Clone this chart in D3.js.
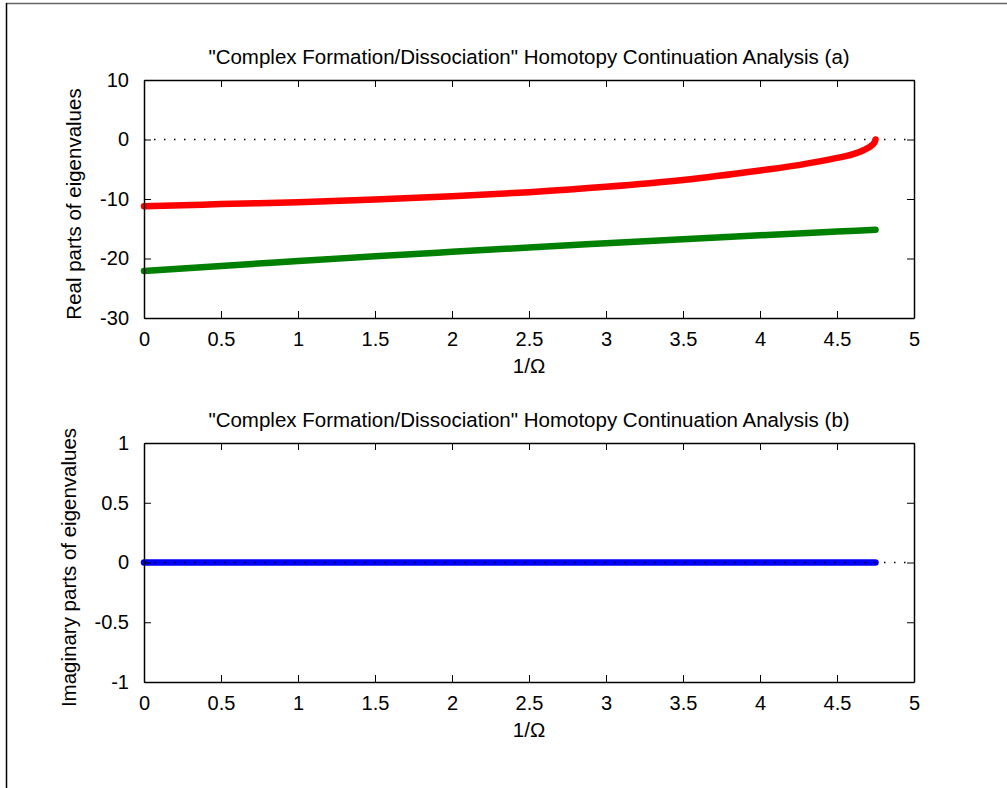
<!DOCTYPE html>
<html>
<head>
<meta charset="utf-8">
<script src="https://cdn.jsdelivr.net/npm/d3@7"></script>
<style>
html,body{margin:0;padding:0;background:#fff;}
text{font-family:"Liberation Sans",Arial,sans-serif;fill:#000;}
</style>
</head>
<body>
<svg id="chart" width="1007" height="788"></svg>
<script>
// ---- data ----
const titleA = '"Complex Formation/Dissociation" Homotopy Continuation Analysis (a)';
const titleB = '"Complex Formation/Dissociation" Homotopy Continuation Analysis (b)';
const xLabel = "1/\u03A9";
const yLabelA = "Real parts of eigenvalues";
const yLabelB = "Imaginary parts of eigenvalues";

const xTicks = [0, 0.5, 1, 1.5, 2, 2.5, 3, 3.5, 4, 4.5, 5];
const yTicksA = [-30, -20, -10, 0, 10];
const yTicksB = [-1, -0.5, 0, 0.5, 1];

const redX = [0, 0.25, 0.5, 1, 1.5, 2, 2.5, 3, 3.5, 4, 4.25, 4.5, 4.6, 4.68, 4.72, 4.74, 4.748, 4.75];
const redY = [-11.2, -11.05, -10.85, -10.55, -10.1, -9.55, -8.85, -7.95, -6.8, -5.2, -4.3, -3.1, -2.5, -1.7, -1.1, -0.6, -0.2, 0];

const greenX = [0, 0.5, 1, 1.5, 2, 2.5, 3, 3.5, 4, 4.5, 4.75];
const greenY = [-22.1, -21.25, -20.44, -19.64, -18.88, -18.14, -17.44, -16.76, -16.1, -15.48, -15.17];

const blueX = [0, 1, 2, 3, 4, 4.75];
const blueY = [0, 0, 0, 0, 0, 0];

// ---- drawing ----
const svg = d3.select("#chart");
const FONT = '"Liberation Sans",Arial,sans-serif';
const fmt = d => d3.format("~g")(d).replace("\u2212", "-");

// figure frame edges
svg.append("line").attr("x1", 6).attr("x2", 1007).attr("y1", 3.5).attr("y2", 3.5)
  .attr("stroke", "#666").attr("stroke-width", 1.5);
svg.append("line").attr("x1", 6.5).attr("x2", 6.5).attr("y1", 3).attr("y2", 788)
  .attr("stroke", "#000").attr("stroke-width", 1.5);

function panel(cfg) {
  const x = d3.scaleLinear().domain([0, 5]).range([144, 914]);
  const y = d3.scaleLinear().domain(cfg.yDomain).range([cfg.bottom, cfg.top]);
  const g = svg.append("g");
  const tickLen = 7;

  const zeroLine = () => g.append("line")
    .attr("x1", x(0)).attr("x2", x(5)).attr("y1", y(0)).attr("y2", y(0))
    .attr("stroke", "#000").attr("stroke-width", 1.3)
    .attr("stroke-dasharray", "1.5,8.5");

  if (!cfg.dotOver) zeroLine();

  // series
  const line = d3.line().x(d => x(d[0])).y(d => y(d[1])).curve(d3.curveMonotoneX);
  cfg.series.forEach(s => {
    const pts = s.xs.map((v, i) => [v, s.ys[i]]);
    g.append("path").attr("d", line(pts))
      .attr("fill", "none").attr("stroke", s.color)
      .attr("stroke-width", 6.5).attr("stroke-linecap", "round").attr("stroke-linejoin", "round");
  });

  if (cfg.dotOver) zeroLine();

  // axes with inward ticks
  const axB = d3.axisBottom(x).tickValues(xTicks).tickSizeInner(-tickLen).tickSizeOuter(0)
    .tickPadding(14).tickFormat(fmt);
  const axT = d3.axisTop(x).tickValues(xTicks).tickSizeInner(-tickLen).tickSizeOuter(0).tickFormat("");
  const axL = d3.axisLeft(y).tickValues(cfg.yTicks).tickSizeInner(-tickLen).tickSizeOuter(0)
    .tickPadding(15).tickFormat(fmt);
  const axR = d3.axisRight(y).tickValues(cfg.yTicks).tickSizeInner(-tickLen).tickSizeOuter(0).tickFormat("");

  const gb = g.append("g").attr("transform", `translate(0,${cfg.bottom})`).call(axB);
  const gt = g.append("g").attr("transform", `translate(0,${cfg.top})`).call(axT);
  const gl = g.append("g").attr("transform", `translate(144,0)`).call(axL);
  const gr = g.append("g").attr("transform", `translate(914,0)`).call(axR);
  [gb, gt, gl, gr].forEach(a => {
    a.attr("font-size", null).attr("font-family", null);
    a.selectAll(".domain").attr("stroke", "#000").attr("stroke-width", 1.5);
    a.selectAll(".tick line").attr("stroke", "#000").attr("stroke-width", 1);
    a.selectAll("text").style("font-family", FONT).style("font-size", "20px").attr("fill", "#000");
  });

  // title
  g.append("text").attr("x", 529).attr("y", cfg.top - 16).attr("text-anchor", "middle")
    .style("font-size", "20.5px").text(cfg.title);
  // x label
  g.append("text").attr("x", 529).attr("y", cfg.bottom + 55).attr("text-anchor", "middle")
    .style("font-size", "20.5px").text(xLabel);
  // y label
  g.append("text").attr("transform", `translate(${cfg.ylx},${(cfg.top + cfg.bottom) / 2 + 5}) rotate(-90)`)
    .attr("text-anchor", "middle").style("font-size", "20.5px").text(cfg.yLabel);
}

panel({
  top: 80, bottom: 318, yDomain: [-30, 10], yTicks: yTicksA,
  title: titleA, yLabel: yLabelA, ylx: 81,
  series: [
    {xs: redX, ys: redY, color: "#ff0000"},
    {xs: greenX, ys: greenY, color: "#008000"}
  ],
  dotOver: false
});

panel({
  top: 443, bottom: 682, yDomain: [-1, 1], yTicks: yTicksB,
  title: titleB, yLabel: yLabelB, ylx: 76,
  series: [
    {xs: blueX, ys: blueY, color: "#0000ff"}
  ],
  dotOver: true
});
</script>
</body>
</html>
